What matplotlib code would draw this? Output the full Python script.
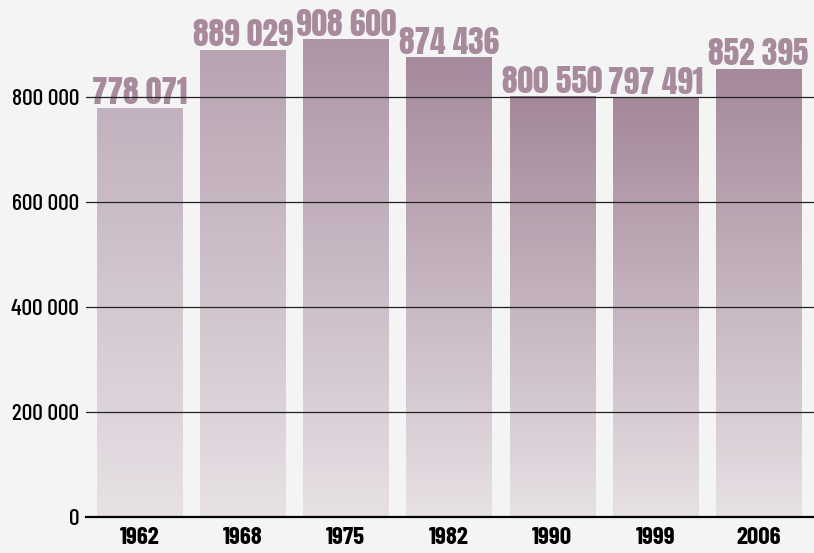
import matplotlib
matplotlib.use("Agg")
import matplotlib.pyplot as plt
import matplotlib.colors as mcolors
import numpy as np

years = ["1962", "1968", "1975", "1982", "1990", "1999", "2006"]
population = [778071, 889029, 908600, 874436, 800550, 797491, 852395]
value_labels = ["778 071", "889 029", "908 600", "874 436", "800 550", "797 491", "852 395"]
yticks = [0, 200000, 400000, 600000, 800000]
ytick_labels = ["0", "200 000", "400 000", "600 000", "800 000"]

# colour at the top of each bar, all fade to the same light tone at the bottom
top_colors = ["#c2b1be", "#b8a3b2", "#ad95a7", "#a58a9c", "#a3889a", "#a4889a", "#a4899b"]
bottom_color = "#e7e1e5"
bg = "#f4f4f4"
label_color = "#a78b9d"
tick_font = dict(family=["Barlow Condensed", "DejaVu Sans"])
value_font = dict(family=["Anton", "DejaVu Sans"])

fig = plt.figure(figsize=(8.14, 5.53), dpi=100, facecolor=bg)
ax = fig.add_axes([86 / 814, 36 / 553, 1 - 86 / 814, 1 - 36 / 553])
ax.set_facecolor(bg)

x = np.arange(len(years))
bars = ax.bar(x, population, width=0.825, color="none", edgecolor="none")

for bar, top in zip(bars, top_colors):
    c0 = np.array(mcolors.to_rgb(bottom_color))
    c1 = np.array(mcolors.to_rgb(top))
    t = np.linspace(0, 1, 256)[:, None]
    grad = (c0 + (c1 - c0) * t)[:, None, :]
    x0 = bar.get_x()
    ax.imshow(grad, extent=(x0, x0 + bar.get_width(), 0, bar.get_height()),
              origin="lower", aspect="auto", zorder=1, interpolation="bilinear")

for xi, v, lab in zip(x, population, value_labels):
    ax.annotate(lab, (xi, v), xytext=(0, 3), textcoords="offset points",
                ha="center", va="baseline", fontsize=22.5, color=label_color,
                zorder=3, **value_font)

ax.set_xlim(-0.52, 6.54)
ax.set_ylim(0, 517 / 420 * 800000)

for y in yticks[1:]:
    ax.axhline(y, color="#222222", lw=0.9, zorder=4)
ax.axhline(0, color="black", lw=1.6, zorder=4, clip_on=False)

ax.set_yticks(yticks)
ax.set_yticklabels(ytick_labels, fontsize=17, fontweight="medium", **tick_font)
ax.set_xticks(x)
ax.set_xticklabels(years, fontsize=18, fontweight="bold", **tick_font)
ax.tick_params(axis="y", length=0, pad=5)
ax.tick_params(axis="x", length=0, pad=7)
for s in ax.spines.values():
    s.set_visible(False)

fig.savefig("out.png", dpi=100, facecolor=bg)
